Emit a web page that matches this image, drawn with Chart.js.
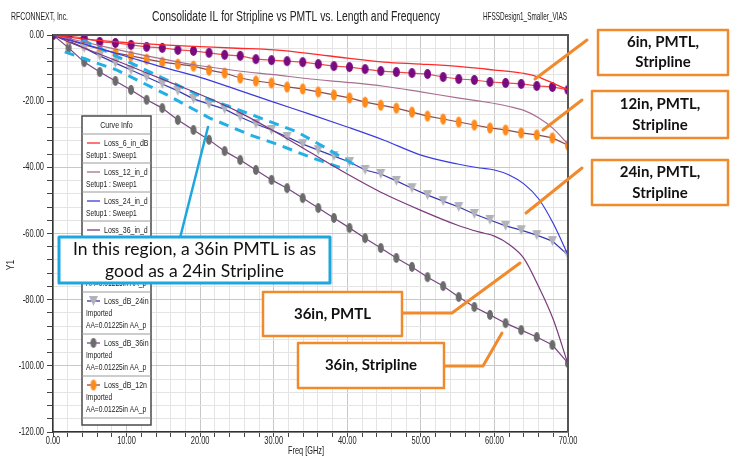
<!DOCTYPE html>
<html>
<head>
<meta charset="utf-8">
<script src="https://cdn.jsdelivr.net/npm/chart.js@4.4.0/dist/chart.umd.min.js"></script>
<style>
  html, body { margin: 0; padding: 0; background: #fff; }
  #wrap { position: relative; width: 733px; height: 457px; overflow: hidden; }
</style>
</head>
<body>
<div id="wrap"><canvas id="chart" width="733" height="457"></canvas></div>
<script>
// frequency grids (GHz)
const freqSim = [0, 2, 5, 10, 15, 20, 25, 30, 35, 40, 45, 50, 55, 58, 60, 62, 64, 66, 68, 70];
const freqImported = [0, 2.12, 4.24, 6.36, 8.48, 10.61, 12.73, 14.85, 16.97, 19.09, 21.21, 23.33,
  25.45, 27.58, 29.7, 31.82, 33.94, 36.06, 38.18, 40.3, 42.42, 44.55, 46.67, 48.79, 50.91, 53.03,
  55.15, 57.27, 59.39, 61.52, 63.64, 65.76, 67.88, 70];

// stripline (HFSS sweep) insertion loss, dB
const loss6Sim = [0, -0.6, -1.4, -2.3, -3.0, -3.5, -4.0, -4.5, -5.6, -7.0, -8.2, -8.8, -9.5, -10.1, -10.6, -11.0, -11.6, -12.7, -14.6, -16.6];
const loss12Sim = [0, -1.0, -2.5, -5.0, -7.3, -9.3, -10.8, -12.0, -13.3, -14.3, -15.5, -17.2, -19.0, -20.0, -20.7, -21.6, -22.8, -25.0, -28.3, -33.0];
const loss24Sim = [0, -1.3, -3.2, -6.5, -9.8, -12.8, -16.5, -20.3, -24.0, -27.8, -31.8, -36.3, -39.0, -40.2, -40.8, -42.3, -45.0, -49.5, -57.0, -66.5];
const loss36Sim = [0, -2.0, -4.6, -9.0, -13.5, -18.0, -23.0, -29.0, -35.5, -42.0, -48.0, -53.0, -57.5, -59.6, -60.8, -63.3, -67.5, -76.0, -86.0, -99.5];

// PMTL (imported) insertion loss, dB
const loss6Pmtl = [0, -0.3, -0.9, -2.1, -2.4, -3.0, -3.6, -3.9, -4.5, -4.8, -5.4, -6.0, -6.3, -7.3, -7.6, -7.9, -8.2,
  -8.8, -9.4, -9.7, -10.3, -10.9, -11.2, -11.5, -11.8, -12.7, -13.3, -13.6, -14.2, -14.5, -14.8, -15.4, -15.7, -16.6];
const loss12Pmtl = [0, -1.5, -3.0, -4.2, -5.4, -6.3, -7.3, -8.2, -8.8, -9.4, -10.6, -11.5, -13.0, -13.9, -14.5, -15.7, -16.3,
  -17.2, -18.1, -19.0, -20.3, -21.2, -22.1, -23.3, -24.5, -25.4, -26.3, -27.2, -28.1, -28.7, -29.6, -30.2, -31.1, -33.3];
const loss24Pmtl = [0, -1.8, -3.9, -6.3, -8.5, -10.6, -12.7, -14.8, -16.9, -19.3, -20.9, -22.4, -24.8, -26.9, -28.7, -30.8, -33.0,
  -34.8, -36.6, -38.4, -40.8, -42.0, -44.1, -46.3, -48.4, -50.2, -52.0, -54.1, -55.9, -57.7, -59.0, -60.5, -62.3, -66.5];
const loss36Pmtl = [0, -3.9, -8.2, -11.2, -13.9, -16.6, -19.6, -22.1, -25.7, -28.7, -31.7, -35.1, -37.8, -40.8, -43.8, -46.3, -49.3,
  -52.3, -55.3, -58.3, -61.4, -64.4, -67.4, -70.1, -73.2, -75.9, -79.2, -82.2, -84.6, -87.1, -89.2, -91.3, -93.7, -99.2];

// hand-drawn highlight lines (dashed cyan)
const dashUpperX = [4.0, 13.2, 20.0, 26.8, 33.2, 37.6, 41.5];
const dashUpperY = [-1.5, -11.2, -18.4, -23.9, -29.3, -34.8, -39.9];
const dashLowerX = [1.6, 8.7, 15.5, 21.3, 26.8, 30.8, 35.3, 40.0];
const dashLowerY = [-5.1, -10.6, -18.1, -25.1, -30.2, -33.3, -37.2, -40.8];

const xTicks = [0, 10, 20, 30, 40, 50, 60, 70];
const yTicks = [0, -20, -40, -60, -80, -100, -120];

const sans = "'Liberation Sans', Arial, sans-serif";
const callFont = "Lato, 'Open Sans', sans-serif";

function pts(xs, ys) {
  return xs.map((x, i) => ({ x: x, y: ys[i] }));
}

// narrow text like the HFSS plot window: Arial squeezed horizontally
function sq(ctx, text, x, y, px, k, align) {
  ctx.save();
  ctx.font = px + 'px ' + sans;
  ctx.textAlign = align || 'left';
  ctx.textBaseline = 'middle';
  ctx.translate(x, y);
  ctx.scale(k, 1);
  ctx.fillText(text, 0, 0);
  ctx.restore();
}
function sqFit(ctx, text, x, y, px, width, align) {
  ctx.save();
  ctx.font = px + 'px ' + sans;
  const k = width / ctx.measureText(text).width;
  ctx.restore();
  sq(ctx, text, x, y, px, k, align);
}

function ellipseMarker(w, h, color) {
  const c = document.createElement('canvas');
  c.width = w + 2; c.height = h + 2;
  const g = c.getContext('2d');
  g.fillStyle = color;
  g.beginPath();
  g.ellipse(c.width / 2, c.height / 2, w / 2, h / 2, 0, 0, Math.PI * 2);
  g.fill();
  return c;
}

function triMarker(w, h, color) {
  const c = document.createElement('canvas');
  c.width = w + 2; c.height = h + 2;
  const g = c.getContext('2d');
  g.fillStyle = color;
  g.beginPath();
  g.moveTo(1, 1); g.lineTo(w + 1, 1); g.lineTo(c.width / 2, h + 1);
  g.closePath(); g.fill();
  return c;
}

const purpleDot = ellipseMarker(7, 10, '#7a0a80');
const orangeDot = ellipseMarker(6, 11, '#ff8a1c');
const grayTri = triMarker(9, 10, '#b2b2ba');
const grayDot = ellipseMarker(6, 10, '#6b6b6b');

function simSet(label, ys, color, width) {
  return { label: label, data: pts(freqSim, ys), borderColor: color, borderWidth: width || 1.2,
    pointRadius: 0, cubicInterpolationMode: 'monotone', fill: false };
}
function pmtlSet(label, ys, color, marker) {
  return { label: label, data: pts(freqImported, ys), borderColor: color, borderWidth: 1.2,
    pointStyle: marker, pointRadius: 4, fill: false, tension: 0 };
}
function dashSet(xs, ys) {
  return { label: '', data: pts(xs, ys), borderColor: '#22b0e6', borderWidth: 3,
    borderDash: [10, 7], pointRadius: 0, fill: false };
}

const datasets = [
  simSet('Loss_6_in_dB', loss6Sim, '#ff2a2a', 1.3),
  simSet('Loss_12_in_d', loss12Sim, '#a8708f'),
  simSet('Loss_24_in_d', loss24Sim, '#3b3bdc'),
  simSet('Loss_36_in_d', loss36Sim, '#7a3a7e'),
  dashSet(dashUpperX, dashUpperY),
  dashSet(dashLowerX, dashLowerY),
  pmtlSet('Loss_dB_6in', loss6Pmtl, '#f04848', purpleDot),
  pmtlSet('Loss_dB_24in', loss24Pmtl, '#3838b0', grayTri),
  pmtlSet('Loss_dB_36in', loss36Pmtl, '#7a4585', grayDot),
  pmtlSet('Loss_dB_12n', loss12Pmtl, '#8a4a4a', orangeDot),
];

// legend rows in the order of the original "Curve Info" box
const legendRows = [
  { ds: 0, sub: ['Setup1 : Sweep1'] },
  { ds: 1, sub: ['Setup1 : Sweep1'] },
  { ds: 2, sub: ['Setup1 : Sweep1'] },
  { ds: 3, sub: ['Setup1 : Sweep1'] },
  { ds: 6, sub: ['Imported', 'AA=0.01225in AA_p'] },
  { ds: 7, sub: ['Imported', 'AA=0.01225in AA_p'] },
  { ds: 8, sub: ['Imported', 'AA=0.01225in AA_p'] },
  { ds: 9, sub: ['Imported', 'AA=0.01225in AA_p'] },
];

function drawLegend(ctx) {
  const L = 82, T = 116, W = 69, H = 309;
  ctx.save();
  ctx.fillStyle = '#fff';
  ctx.fillRect(L, T, W, H);
  ctx.strokeStyle = '#4a4a4a';
  ctx.lineWidth = 1.5;
  ctx.strokeRect(L, T, W, H);
  ctx.fillStyle = '#222';
  sq(ctx, 'Curve Info', L + W / 2, T + 9, 9.5, 0.74, 'center');
  ctx.lineWidth = 1;
  ctx.strokeStyle = '#9a9a9a';
  let y = T + 18;
  ctx.beginPath(); ctx.moveTo(L, y); ctx.lineTo(L + W, y); ctx.stroke();
  legendRows.forEach(row => {
    const ds = datasets[row.ds];
    const h = row.sub.length === 1 ? 29 : 42;
    ctx.strokeStyle = ds.borderColor;
    ctx.lineWidth = 1.3;
    ctx.beginPath(); ctx.moveTo(L + 5, y + 9); ctx.lineTo(L + 18, y + 9); ctx.stroke();
    if (ds.pointStyle) ctx.drawImage(ds.pointStyle, L + 11.5 - ds.pointStyle.width / 2, y + 9 - ds.pointStyle.height / 2);
    ctx.fillStyle = '#222';
    sq(ctx, ds.label, L + 22, y + 9, 9.5, 0.74);
    row.sub.forEach((s, i) => sq(ctx, s, L + 4, y + 21 + i * 12, 9.5, 0.7));
    y += h;
    ctx.strokeStyle = '#9a9a9a';
    ctx.lineWidth = 1;
    ctx.beginPath(); ctx.moveTo(L, y); ctx.lineTo(L + W, y); ctx.stroke();
  });
  ctx.restore();
}

function box(ctx, x, y, w, h, color, lines, font, lineGap, lw) {
  ctx.fillStyle = '#fff';
  ctx.fillRect(x, y, w, h);
  ctx.strokeStyle = color;
  ctx.lineWidth = lw;
  ctx.strokeRect(x, y, w, h);
  ctx.fillStyle = '#111';
  ctx.font = font;
  ctx.textAlign = 'center';
  ctx.textBaseline = 'middle';
  const cy = y + h / 2 - (lines.length - 1) * lineGap / 2;
  lines.forEach((t, i) => ctx.fillText(t, x + w / 2, cy + i * lineGap));
}

function poly(ctx, p, color, width) {
  ctx.strokeStyle = color;
  ctx.lineWidth = width;
  ctx.lineCap = 'round';
  ctx.lineJoin = 'round';
  ctx.beginPath();
  ctx.moveTo(p[0][0], p[0][1]);
  for (let i = 1; i < p.length; i++) ctx.lineTo(p[i][0], p[i][1]);
  ctx.stroke();
}

const overlay = {
  id: 'overlay',
  afterDraw(chart) {
    const ctx = chart.ctx;
    const a = chart.chartArea;
    const xs = chart.scales.x, ys = chart.scales.y;
    ctx.save();
    // plot frame top / right
    ctx.strokeStyle = '#555';
    ctx.lineWidth = 2;
    ctx.beginPath(); ctx.moveTo(a.left, a.top); ctx.lineTo(a.right, a.top); ctx.lineTo(a.right, a.bottom); ctx.stroke();

    // tick labels (narrow)
    ctx.fillStyle = '#222';
    xTicks.forEach(v => sq(ctx, v.toFixed(2), xs.getPixelForValue(v), a.bottom + 9, 11, 0.68, 'center'));
    yTicks.forEach(v => sq(ctx, v.toFixed(2), a.left - 9, ys.getPixelForValue(v), 11, 0.68, 'right'));

    // header
    sqFit(ctx, 'RFCONNEXT, Inc.', 11, 17, 11, 57);
    sqFit(ctx, 'HFSSDesign1_Smaller_VIAS', 483, 17, 11, 84);
    sqFit(ctx, 'Consolidate IL for Stripline vs PMTL vs. Length and Frequency', 296, 17, 15, 288, 'center');

    // axis titles
    sq(ctx, 'Freq [GHz]', 306, 451, 10.5, 0.7, 'center');
    ctx.save();
    ctx.translate(11, 265);
    ctx.rotate(-Math.PI / 2);
    sq(ctx, 'Y1', 0, 0, 10.5, 0.8, 'center');
    ctx.restore();

    drawLegend(ctx);

    // callouts
    const orange = '#f08a2c';
    const cyan = '#1ea7de';
    const bold = 'bold 15px ' + callFont;
    poly(ctx, [[587, 40], [535, 79]], orange, 3);
    poly(ctx, [[582, 100], [543, 130]], orange, 3);
    poly(ctx, [[582, 168], [526, 213]], orange, 3);
    poly(ctx, [[402, 313], [452, 313], [520, 263]], orange, 3);
    poly(ctx, [[444, 366], [483, 366], [502, 333]], orange, 3);
    poly(ctx, [[180, 238], [208, 127]], cyan, 2.5);
    box(ctx, 598, 30, 130, 45, orange, ['6in, PMTL,', 'Stripline'], bold, 20, 2.5);
    box(ctx, 592, 91, 136, 47, orange, ['12in, PMTL,', 'Stripline'], bold, 21, 2.5);
    box(ctx, 592, 160, 136, 45, orange, ['24in, PMTL,', 'Stripline'], bold, 21, 2.5);
    box(ctx, 263, 292, 139, 44, orange, ['36in, PMTL'], bold, 0, 2.5);
    box(ctx, 298, 343, 146, 45, orange, ['36in, Stripline'], bold, 0, 2.5);
    box(ctx, 59, 237, 271, 46, cyan, ['In this region, a 36in PMTL is as', 'good as a 24in Stripline'], '17.5px ' + callFont, 22, 3);
    ctx.restore();
  }
};

new Chart(document.getElementById('chart'), {
  type: 'line',
  data: { datasets: datasets },
  options: {
    responsive: false,
    animation: false,
    devicePixelRatio: 1,
    layout: { padding: { left: 0, right: 165, top: 35, bottom: 0 } },
    plugins: { legend: { display: false }, tooltip: { enabled: false } },
    scales: {
      x: {
        type: 'linear', min: 0, max: 70,
        afterFit: s => { s.height = 25; },
        ticks: { stepSize: 2, autoSkip: false, maxRotation: 0, display: false },
        grid: {
          color: c => xTicks.includes(c.tick.value) ? '#c9c9c9' : '#e4e4e4',
          lineWidth: 1, tickLength: 5, tickColor: '#444'
        },
        border: { color: '#333', width: 1.5 }
      },
      y: {
        min: -120, max: 0,
        afterFit: s => { s.width = 53; },
        ticks: { stepSize: 4, autoSkip: false, display: false },
        grid: {
          color: c => yTicks.includes(c.tick.value) ? '#c9c9c9' : '#e4e4e4',
          lineWidth: 1, tickLength: 6, tickColor: '#444'
        },
        border: { color: '#333', width: 1.5 }
      }
    }
  },
  plugins: [overlay]
});
</script>
</body>
</html>
